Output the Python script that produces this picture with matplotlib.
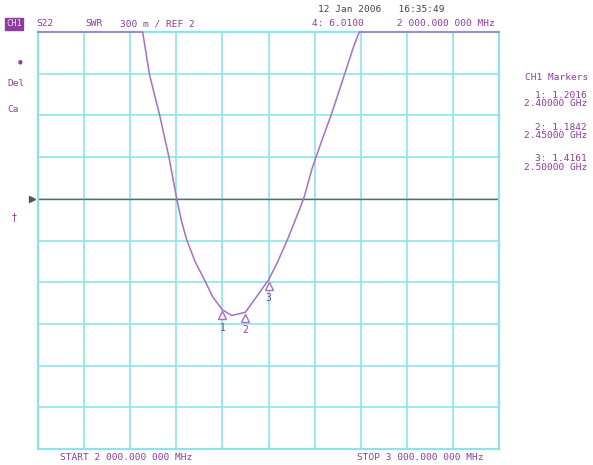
import matplotlib
matplotlib.use("Agg")
import matplotlib.pyplot as plt
import matplotlib.transforms as mtransforms

# Trace (frequency in GHz, SWR); values above
# the top graticule are shown pinned to the top line, as the instrument does.
freq_ghz = [2.000, 2.227, 2.242, 2.264, 2.284, 2.301, 2.3106, 2.3225, 2.3409,
            2.3636, 2.3788, 2.400, 2.420, 2.450, 2.500, 2.519, 2.541, 2.567,
            2.578, 2.595, 2.617, 2.636, 2.654, 2.671, 2.686, 2.697, 3.000]
swr = [3.2, 3.2, 2.89, 2.60, 2.30, 2.00, 1.849, 1.705, 1.547,
       1.40, 1.295, 1.2016, 1.16, 1.1842, 1.4161, 1.54, 1.705, 1.921,
       2.02, 2.223, 2.432, 2.604, 2.784, 2.957, 3.108, 3.2, 3.2]

marker_ids = ["1", "2", "3"]
marker_freq = [2.40, 2.45, 2.50]
marker_swr = [1.2016, 1.1842, 1.4161]

REF = 2.0
SCALE = 0.3        # 300 m / div
N_DIV = 10
TOP_DIVS = 4       # ref line sits 4 divisions below the top

PURPLE = "#8e3c9e"
TRACE = "#a76fc4"
CYAN = "#8ae5ea"
MONO = "DejaVu Sans Mono"

W, H = 593, 465
fig = plt.figure(figsize=(W / 100, H / 100), dpi=100)
ax = fig.add_axes([38 / W, 1 - 449 / H, (499 - 38) / W, (449 - 32) / H])

ymax = REF + TOP_DIVS * SCALE
ymin = ymax - N_DIV * SCALE
ax.set_xlim(2.0, 3.0)
ax.set_ylim(ymin, ymax)
ax.set_xticks([2.0 + 0.1 * i for i in range(N_DIV + 1)])
ax.set_yticks([ymin + SCALE * i for i in range(N_DIV + 1)])
ax.tick_params(length=0, labelbottom=False, labelleft=False)
ax.grid(True, color=CYAN, linewidth=1.2)
for sp in ax.spines.values():
    sp.set_color(CYAN)
    sp.set_linewidth(1.6)
ax.set_axisbelow(True)

# reference line
ax.axhline(REF, color="#666666", linewidth=1.0, zorder=2)
ax.plot([-0.012], [REF], marker=">", color="#555555", markersize=4,
        transform=ax.get_yaxis_transform(), clip_on=False)

# trace
ax.plot(freq_ghz, swr, color=TRACE, linewidth=1.1, clip_on=False, zorder=3)

# markers: hollow triangles hanging below the trace, number underneath
shift = mtransforms.ScaledTranslation(0, -4 / 72, fig.dpi_scale_trans)
ax.plot(marker_freq, marker_swr, linestyle="none", marker="^", markersize=6,
        markerfacecolor="white", markeredgecolor=TRACE, markeredgewidth=1.0,
        transform=ax.transData + shift, zorder=4)
for mid, f, v in zip(marker_ids, marker_freq, marker_swr):
    ax.annotate(mid, (f, v), xytext=(0, -13), textcoords="offset points",
                ha="center", va="center", fontsize=7, color=PURPLE,
                family=MONO)

# header
txt = dict(fontsize=6.8, color=PURPLE, family=MONO, va="center")
fig.text(6 / W, 1 - 24 / H, "CH1", color="#f0d8f4", fontsize=6.3,
         family=MONO, va="center",
         bbox=dict(boxstyle="square,pad=0.15", facecolor=PURPLE,
                   edgecolor=PURPLE))
fig.text(36 / W, 1 - 24 / H, "S22", **txt)
fig.text(85 / W, 1 - 24 / H, "SWR", **txt)
fig.text(120 / W, 1 - 24 / H, "300 m / REF 2", **txt)
fig.text(312 / W, 1 - 24 / H, "4: 6.0100", **txt)
fig.text(397 / W, 1 - 24 / H, "2 000.000 000 MHz", **txt)
fig.text(318 / W, 1 - 10 / H, "12 Jan 2006   16:35:49", fontsize=6.8,
         color="#444444", family=MONO, va="center")

# left softkey annotations
fig.text(18 / W, 1 - 62 / H, "\u25cf", fontsize=4, color=PURPLE, va="center")
fig.text(7 / W, 1 - 83 / H, "Del", **txt)
fig.text(7 / W, 1 - 110 / H, "Ca", **txt)
fig.text(12 / W, 1 - 217 / H, "\u2020", fontsize=7, color=PURPLE, va="center")

# marker table
fig.text(588 / W, 1 - 77 / H, "CH1 Markers", ha="right", **txt)
rows_y = [95, 127, 158]
for mid, f, v, y in zip(marker_ids, marker_freq, marker_swr, rows_y):
    fig.text(587 / W, 1 - y / H, f"{mid}: {v:.4f}", ha="right", **txt)
    fig.text(587 / W, 1 - (y + 9) / H, f"{f:.5f} GHz", ha="right", **txt)

# footer
fig.text(60 / W, 1 - 457 / H, "START 2 000.000 000 MHz", **txt)
fig.text(357 / W, 1 - 457 / H, "STOP 3 000.000 000 MHz", **txt)

fig.savefig("out.png", dpi=100)
